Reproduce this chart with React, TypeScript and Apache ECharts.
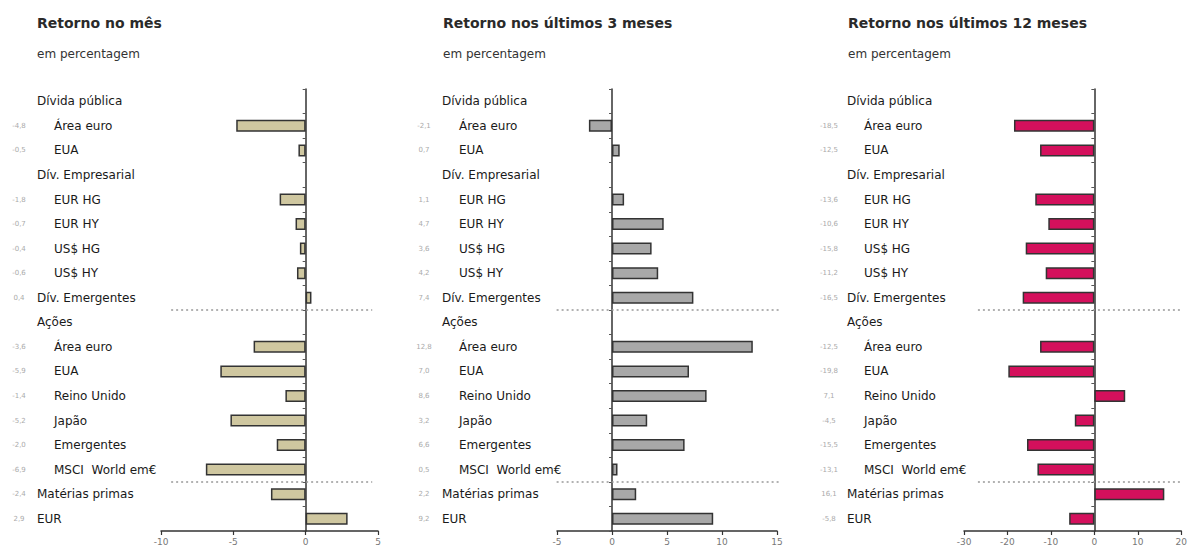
import React, { useEffect, useRef } from "react";
import * as echarts from "echarts";

const categories = [
  "Dívida pública", "Área euro", "EUA", "Dív. Empresarial", "EUR HG", "EUR HY",
  "US$ HG", "US$ HY", "Dív. Emergentes", "Ações", "Área euro", "EUA",
  "Reino Unido", "Japão", "Emergentes", "MSCI  World em€", "Matérias primas", "EUR",
];
const isHeader = [true, false, false, true, false, false, false, false, true, true, false, false, false, false, false, false, true, true];

const monthReturn = [null, -4.8, -0.5, null, -1.8, -0.7, -0.4, -0.6, 0.4, null, -3.6, -5.9, -1.4, -5.2, -2.0, -6.9, -2.4, 2.9];
const threeMonthReturn = [null, -2.1, 0.7, null, 1.1, 4.7, 3.6, 4.2, 7.4, null, 12.8, 7.0, 8.6, 3.2, 6.6, 0.5, 2.2, 9.2];
const twelveMonthReturn = [null, -18.5, -12.5, null, -13.6, -10.6, -15.8, -11.2, -16.5, null, -12.5, -19.8, 7.1, -4.5, -15.5, -13.1, 16.1, -5.8];

const panelTitles = ["Retorno no mês", "Retorno nos últimos 3 meses", "Retorno nos últimos 12 meses"];
const subtitle = "em percentagem";

const xMin = [-10, -5, -30];
const xMax = [5, 15, 20];
const xInterval = [5, 5, 10];

const separatorRows = [8.5, 15.5];
const separatorFrom = [-9.3, -6.4, -26.8];
const separatorTo = [4.6, 15.3, 20.2];

const allValues = [monthReturn, threeMonthReturn, twelveMonthReturn];
const barColors = ["#cfc7a0", "#a8a8a8", "#d4105c"];

const FONT = "DejaVu Sans";

const layout = [
  { gridLeft: 161, gridWidth: 217, titleLeft: 37, labelMargin: 156 },
  { gridLeft: 557, gridWidth: 220, titleLeft: 443, labelMargin: 147 },
  { gridLeft: 964, gridWidth: 220, titleLeft: 848, labelMargin: 149 },
];

const fmt = (v: number) => v.toFixed(1).replace(".", ",");

export default function App() {
  const ref = useRef<HTMLDivElement>(null);
  useEffect(() => {
    if (!ref.current) return;
    const chart = echarts.init(ref.current, null, { renderer: "svg" });
    const catIds = categories.map((_, k) => String(k));

    const title: any[] = [];
    const grid: any[] = [];
    const xAxis: any[] = [];
    const yAxis: any[] = [];
    const series: any[] = [];

    layout.forEach((p, i) => {
      title.push({
        text: panelTitles[i],
        left: p.titleLeft,
        top: 16,
        padding: 0,
        textStyle: { fontFamily: FONT, fontSize: 14, fontWeight: "bold", color: "#2a2a2a" },
      });
      title.push({
        text: subtitle,
        left: p.titleLeft,
        top: 48,
        padding: 0,
        textStyle: { fontFamily: FONT, fontSize: 12, fontWeight: "normal", color: "#333" },
      });
      grid.push({ left: p.gridLeft, width: p.gridWidth, top: 89, height: 442 });
      xAxis.push({
        type: "value",
        gridIndex: i,
        min: xMin[i],
        max: xMax[i],
        interval: xInterval[i],
        axisLine: { show: true, onZero: false, lineStyle: { color: "#333", width: 1.5 } },
        axisTick: { show: true, length: 4, lineStyle: { color: "#333", width: 1.2 } },
        axisLabel: { color: "#777", fontSize: 9, margin: 6, fontFamily: FONT },
        splitLine: { show: false },
      });
      const vals = allValues[i];
      yAxis.push({
        type: "category",
        gridIndex: i,
        position: "left",
        data: catIds,
        inverse: true,
        axisLine: { show: true, onZero: true, lineStyle: { color: "#333", width: 1.5 } },
        axisTick: { show: true, length: 3, lineStyle: { color: "#555" } },
        axisLabel: { show: false },
        splitLine: { show: false },
      });
      yAxis.push({
        type: "category",
        gridIndex: i,
        position: "left",
        data: catIds,
        inverse: true,
        axisLine: { show: false, onZero: false },
        axisTick: { show: false },
        splitLine: { show: false },
        axisLabel: {
          show: true,
          interval: 0,
          align: "left",
          margin: p.labelMargin,
          formatter: (_v: string, idx: number) => {
            const v = vals[idx];
            const vs = v == null ? " " : fmt(v as number);
            return `{v|${vs}}{${isHeader[idx] ? "h" : "i"}|${categories[idx]}}`;
          },
          rich: {
            v: { width: 28, align: "right", fontSize: 7, color: "#aaa", fontFamily: FONT },
            h: { padding: [0, 0, 0, 4], fontSize: 12, color: "#1a1a1a", fontFamily: FONT },
            i: { padding: [0, 0, 0, 21], fontSize: 12, color: "#1a1a1a", fontFamily: FONT },
          },
        },
      });
      yAxis.push({
        type: "value",
        gridIndex: i,
        position: "right",
        min: -0.5,
        max: categories.length - 0.5,
        inverse: true,
        show: false,
        axisLine: { onZero: false },
      });
      series.push({
        type: "bar",
        xAxisIndex: i,
        yAxisIndex: i * 3,
        data: vals.map((v) => (v == null ? null : v)),
        barWidth: 12,
        itemStyle: { color: barColors[i], borderColor: "#333", borderWidth: 1.5 },
        silent: true,
      });
      separatorRows.forEach((row) => {
        series.push({
          type: "line",
          xAxisIndex: i,
          yAxisIndex: i * 3 + 2,
          data: [
            [separatorFrom[i], row],
            [separatorTo[i], row],
          ],
          symbol: "none",
          clip: false,
          silent: true,
          lineStyle: { color: "#999", width: 1.5, type: [2, 3] },
        });
      });
    });

    chart.setOption({
      animation: false,
      backgroundColor: "#ffffff",
      title,
      grid,
      xAxis,
      yAxis,
      series,
    });
    return () => chart.dispose();
  }, []);

  return (
    <div
      ref={ref}
      style={{ position: "absolute", left: 0, top: 0, width: 1190, height: 551, background: "#fff" }}
    />
  );
}
